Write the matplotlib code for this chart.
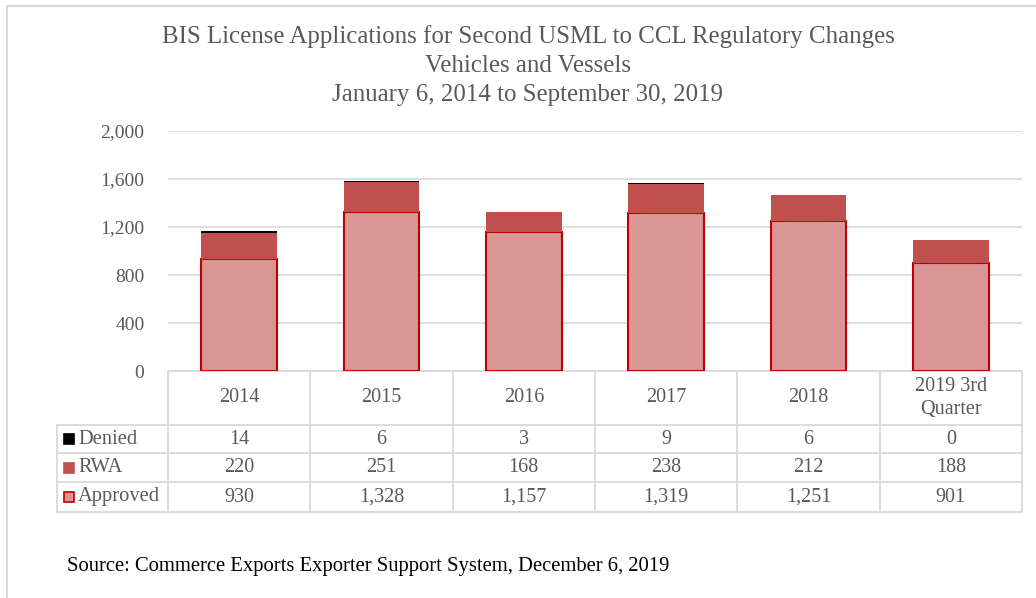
import matplotlib
matplotlib.use("Agg")
import matplotlib.pyplot as plt
from matplotlib.patches import Rectangle
from matplotlib.lines import Line2D

categories = ["2014", "2015", "2016", "2017", "2018", "2019 3rd\nQuarter"]
approved = [930, 1328, 1157, 1319, 1251, 901]
rwa = [220, 251, 168, 238, 212, 188]
denied = [14, 6, 3, 9, 6, 0]
yticks = [0, 400, 800, 1200, 1600, 2000]
title_lines = ["BIS License Applications for Second USML to CCL Regulatory Changes",
               "Vehicles and Vessels",
               "January 6, 2014 to September 30, 2019"]
source = "Source: Commerce Exports Exporter Support System, December 6, 2019"

W, H = 1036, 598
FONT = "Liberation Serif"
GRAY = "#595959"
GRID = "#D9D9D9"
C_APP = "#D99694"
C_APP_EDGE = "#C00000"
C_RWA = "#C0504D"
C_DEN = "#000000"

fig = plt.figure(figsize=(W / 100, H / 100), dpi=100)
fig.patch.set_facecolor("white")

# overlay in pixel coords
ov = fig.add_axes([0, 0, 1, 1])
ov.set_xlim(0, W)
ov.set_ylim(H, 0)
ov.axis("off")

# chart border
ov.plot([7, 7, W + 5], [H + 5, 6, 6], color=GRID, lw=1.5, solid_capstyle="butt")

# plot area
x0, x1, ytop, ybot = 168, 1022, 131, 371
ax = fig.add_axes([x0 / W, 1 - ybot / H, (x1 - x0) / W, (ybot - ytop) / H])
ax.set_zorder(2)
ax.patch.set_alpha(0)
n = len(categories)
xs = list(range(n))
bw = 0.53
ax.bar(xs, approved, width=bw, color=C_APP, edgecolor=C_APP_EDGE, linewidth=1.5, zorder=3)
ax.bar(xs, rwa, width=bw, bottom=approved, color=C_RWA, linewidth=0, zorder=3)
bottoms2 = [a + r for a, r in zip(approved, rwa)]
ax.bar(xs, denied, width=bw, bottom=bottoms2, color=C_DEN, linewidth=0, zorder=3)
ax.set_xlim(-0.5, n - 0.5)
ax.set_ylim(0, 2000)
ax.set_yticks(yticks)
ax.set_yticklabels([f"{v:,}" for v in yticks], fontfamily=FONT, fontsize=14, color=GRAY)
ax.tick_params(axis="y", length=0, pad=17)
ax.set_xticks([])
for s in ax.spines.values():
    s.set_visible(False)
ax.yaxis.grid(True, color=GRID, lw=1.2)
ax.set_axisbelow(True)

# title
for i, t in enumerate(title_lines):
    ov.text(528, 37 + i * 29, t, ha="center", va="center", fontfamily=FONT,
            fontsize=17.9, color=GRAY)

# table
colw = (x1 - x0) / n
lx0 = 57
rows_y = [371, 425, 453, 482, 512]
lw = 1.3
for i, y in enumerate(rows_y):
    xa = x0 if i == 0 else lx0
    ov.add_line(Line2D([xa, x1], [y, y], color=GRID, lw=lw))
for j in range(n + 1):
    xx = x0 + j * colw
    ov.add_line(Line2D([xx, xx], [371, 512], color=GRID, lw=lw))
ov.add_line(Line2D([lx0, lx0], [425, 512], color=GRID, lw=lw))

for j, c in enumerate(categories):
    cx = x0 + (j + 0.5) * colw
    ov.text(cx, 398, c, ha="center", va="center", fontfamily=FONT, fontsize=14.5,
            color=GRAY, linespacing=1.3)

series = [("Denied", denied, C_DEN, C_DEN),
          ("RWA", rwa, C_RWA, C_RWA),
          ("Approved", approved, C_APP, C_APP_EDGE)]
for r, (name, vals, fc, ec) in enumerate(series):
    cy = (rows_y[r + 1] + rows_y[r + 2]) / 2
    ov.add_patch(Rectangle((64, cy - 5), 10, 10, facecolor=fc, edgecolor=ec, lw=1.2))
    ov.text(78, cy, name, ha="left", va="center", fontfamily=FONT, fontsize=14.8, color=GRAY)
    for j, v in enumerate(vals):
        cx = x0 + (j + 0.5) * colw
        ov.text(cx, cy, f"{v:,}", ha="center", va="center", fontfamily=FONT,
                fontsize=14.5, color=GRAY)

ov.text(67, 566, source, ha="left", va="center", fontfamily=FONT, fontsize=14.9, color="black")

fig.savefig("out.png", dpi=100, facecolor="white")
